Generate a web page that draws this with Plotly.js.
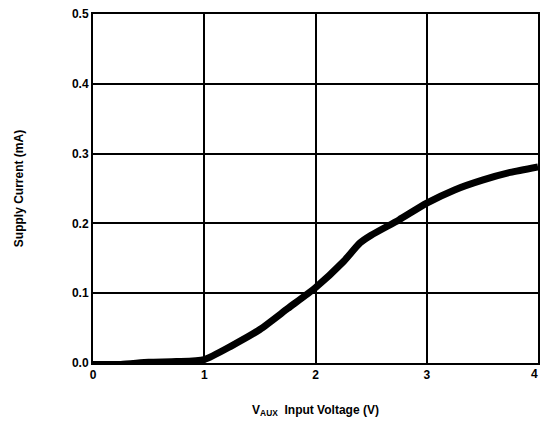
<!DOCTYPE html>
<html><head><meta charset="utf-8">
<script src="https://cdn.plot.ly/plotly-3.0.1.min.js"></script>
<style>body{margin:0;background:#fff}#c{width:540px;height:429px}</style>
</head><body><div id="c"></div>
<script>
const voltage = [0, 0.25, 0.5, 0.75, 1.0, 1.25, 1.5, 1.75, 2.0, 2.25, 2.4, 2.5, 2.75, 3.0, 3.25, 3.5, 3.75, 4.0];
const current = [-0.002, -0.002, 0.001, 0.002, 0.005, 0.025, 0.048, 0.078, 0.108, 0.145, 0.172, 0.183, 0.205, 0.229, 0.248, 0.262, 0.273, 0.281];
const xTicks = [0, 1, 2, 3, 4];
const yTicks = [0.0, 0.1, 0.2, 0.3, 0.4, 0.5];
const font = {family: 'Liberation Sans, Arial, sans-serif', size: 12, color: '#000', weight: 'bold'};
Plotly.newPlot('c', [{
  x: voltage, y: current, mode: 'lines', type: 'scatter',
  line: {color: '#000', width: 7, shape: 'spline', smoothing: 0.6},
  showlegend: false, hoverinfo: 'skip', cliponaxis: true
}], {
  width: 540, height: 429,
  margin: {l: 93, r: 2, t: 14, b: 66},
  paper_bgcolor: '#fff', plot_bgcolor: '#fff',
  font: font,
  xaxis: {
    range: [0, 4], tickvals: xTicks, ticktext: xTicks.map(String),
    showgrid: true, gridcolor: '#000', gridwidth: 2,
    showline: true, linecolor: '#000', linewidth: 2, mirror: true,
    zeroline: false, ticks: '',
    tickfont: font,
    title: {text: 'V<sub>AUX</sub>  Input Voltage (V)', font: font, standoff: 24}
  },
  yaxis: {
    range: [0, 0.5], tickvals: yTicks, ticktext: yTicks.map(v => v.toFixed(1)),
    showgrid: true, gridcolor: '#000', gridwidth: 2,
    showline: true, linecolor: '#000', linewidth: 2, mirror: true,
    zeroline: false, ticks: '',
    tickfont: font,
    title: {text: 'Supply Current (mA)', font: font, standoff: 46}
  },
  annotations: [{
    x: xTicks[xTicks.length - 1], xref: 'x', y: 0, yref: 'paper',
    text: String(xTicks[xTicks.length - 1]), showarrow: false,
    xanchor: 'right', xshift: 2, yanchor: 'top', yshift: -2, font: font
  }]
}, {staticPlot: true});
</script></body></html>
